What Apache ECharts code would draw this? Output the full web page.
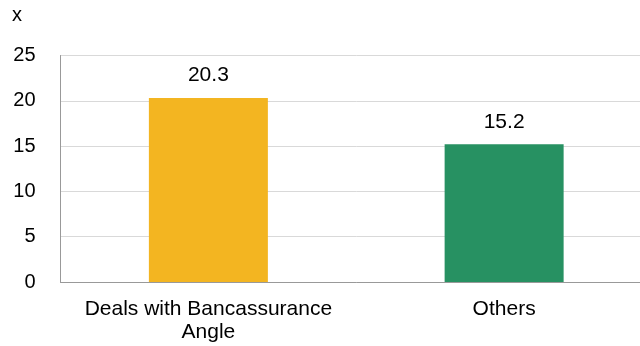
<!DOCTYPE html>
<html><head><meta charset="utf-8">
<script src="https://cdn.jsdelivr.net/npm/echarts@6/dist/echarts.min.js"></script>
<style>html,body{margin:0;padding:0;background:#fff;overflow:hidden}#c{width:652px;height:346px}</style>
</head><body><div id="c"></div>
<script>
const categories = ["Deals with Bancassurance\nAngle", "Others"];
const values = [20.3, 15.2];
const barColors = ["#F3B521", "#279162"];
const unitLabel = "x";

const FF = 'Liberation Sans, Arial, sans-serif';
const chart = echarts.init(document.getElementById('c'), null, {renderer: 'canvas'});
chart.setOption({
  animation: false,
  textStyle: {fontFamily: FF},
  graphic: [{type: 'text', left: 12, top: 5, style: {text: unitLabel, font: '20px ' + FF, fill: '#000'}}],
  grid: {left: 60.5, right: 0, top: 55.5, bottom: 64, containLabel: false},
  xAxis: {
    type: 'category', data: categories,
    axisLine: {lineStyle: {color: '#999', width: 1}},
    axisTick: {show: false},
    axisLabel: {color: '#000', fontSize: 21, margin: 16, lineHeight: 23, interval: 0}
  },
  yAxis: {
    type: 'value', min: 0, max: 25, interval: 5,
    axisLine: {show: true, lineStyle: {color: '#999'}},
    axisTick: {show: false},
    splitLine: {lineStyle: {color: '#d9d9d9'}},
    axisLabel: {color: '#000', fontSize: 20, margin: 25}
  },
  series: [{
    type: 'bar', barWidth: 119,
    data: values.map((v, i) => ({value: v, itemStyle: {color: barColors[i]}})),
    label: {show: true, position: 'top', distance: 12, color: '#000', fontSize: 21}
  }]
});
</script></body></html>
